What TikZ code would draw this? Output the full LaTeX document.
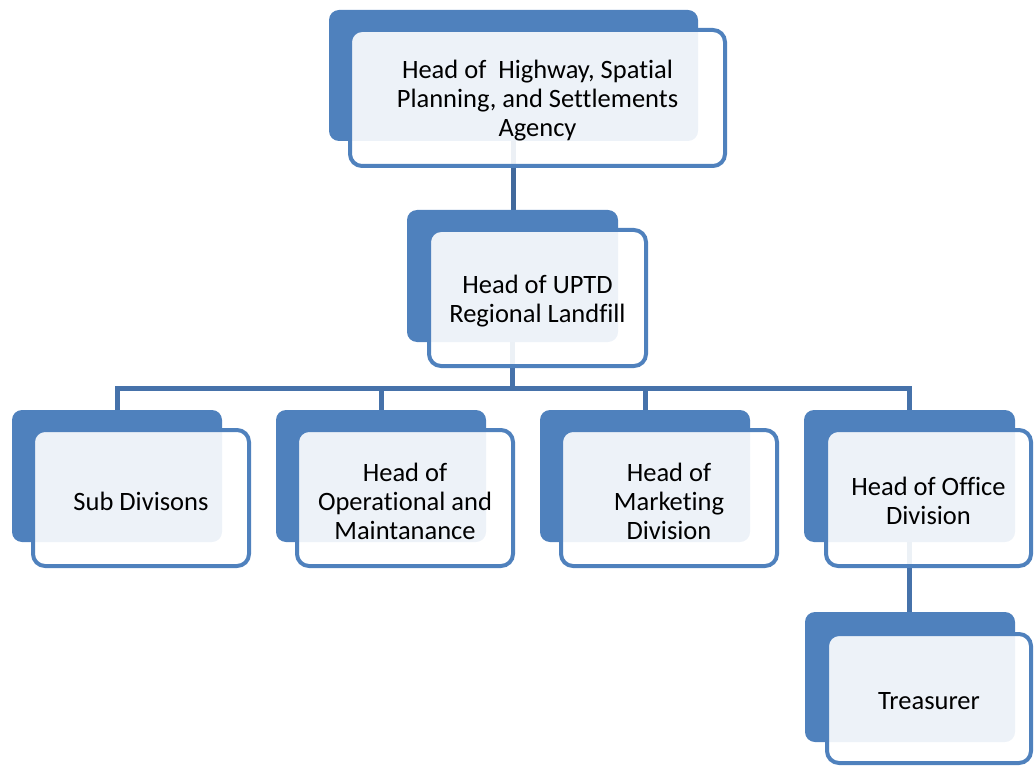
\documentclass[tikz,border=0pt]{standalone}
\usepackage{fontspec}
\setmainfont{Carlito}[Ligatures={NoCommon}]
\usetikzlibrary{backgrounds}
\definecolor{accent}{HTML}{4F81BD}
\definecolor{linkc}{HTML}{4672AA}
\definecolor{linkdark}{HTML}{41699C}
\tikzset{
  backbox/.style={fill=accent, draw=none, rounded corners=10pt,
    inner sep=0pt, outer sep=0pt},
  frontbox/.style={fill=white, fill opacity=0.9,
    draw=accent, draw opacity=1, line width=4pt, rounded corners=12pt,
    inner sep=0pt, outer sep=0pt},
  boxtext/.style={align=center, text=black, inner sep=0pt, yshift=-3pt,
    font=\fontsize{26.5}{29}\selectfont},
  link/.style={draw=linkc, line width=5pt}
}
\begin{document}
\begin{tikzpicture}[x=1pt,y=-1pt]
\useasboundingbox (0,0) rectangle (1035,767);

% top level
\node[backbox, minimum width=369pt, minimum height=131pt] (topB) at (513.5,75.5) {};
\node[frontbox, minimum width=375pt, minimum height=136pt] (top) at (537.5,98) {};
\node[boxtext] (topT) at (top.center)
  {Head of\ \ Highway, Spatial\\Planning, and Settlements\\Agency};

% second level
\node[backbox, minimum width=211pt, minimum height=132pt] (midB) at (512.5,276) {};
\node[frontbox, minimum width=217pt, minimum height=136pt] (mid) at (537.5,298) {};
\node[boxtext] (midT) at (mid.center) {Head of UPTD\\Regional Landfill};

% third level
\node[backbox, minimum width=210pt, minimum height=132pt] (subB) at (117,476) {};
\node[frontbox, minimum width=216pt, minimum height=136pt] (sub) at (141,498) {};
\node[boxtext] (subT) at (sub.center) {Sub Divisons};

\node[backbox, minimum width=210pt, minimum height=132pt] (opB) at (381,476) {};
\node[frontbox, minimum width=216pt, minimum height=136pt] (op) at (405,498) {};
\node[boxtext] (opT) at (op.center) {Head of\\Operational and\\Maintanance};

\node[backbox, minimum width=210pt, minimum height=132pt] (mkB) at (645,476) {};
\node[frontbox, minimum width=216pt, minimum height=136pt] (mk) at (669,498) {};
\node[boxtext] (mkT) at (mk.center) {Head of\\Marketing\\Division};

\node[backbox, minimum width=211pt, minimum height=132pt] (offB) at (909.5,476) {};
\node[frontbox, minimum width=205pt, minimum height=136pt] (off) at (928.5,498) {};
\node[boxtext] (offT) at (off.center) {Head of Office\\Division};

% fourth level
\node[backbox, minimum width=210pt, minimum height=130pt] (trB) at (910,677) {};
\node[frontbox, minimum width=204pt, minimum height=129pt] (tr) at (929,698.5) {};
\node[boxtext] (trT) at (tr.center) {Treasurer};

% connectors, behind the boxes
\coordinate (bus) at (0,388);
\begin{scope}[on background layer]
  \draw[link, draw=linkdark] (topB.south) -- (topB.south |- midB.north);
  \draw[link] (midB.south) -- (midB.south |- bus);
  \draw[link] (subB.north) |- (bus -| offB.north) -- (offB.north);
  \draw[link] (opB.north) -- (opB.north |- bus);
  \draw[link] (mkB.north) -- (mkB.north |- bus);
  \draw[link] (offB.south) -- (offB.south |- trB.north);
\end{scope}
\end{tikzpicture}
\end{document}
